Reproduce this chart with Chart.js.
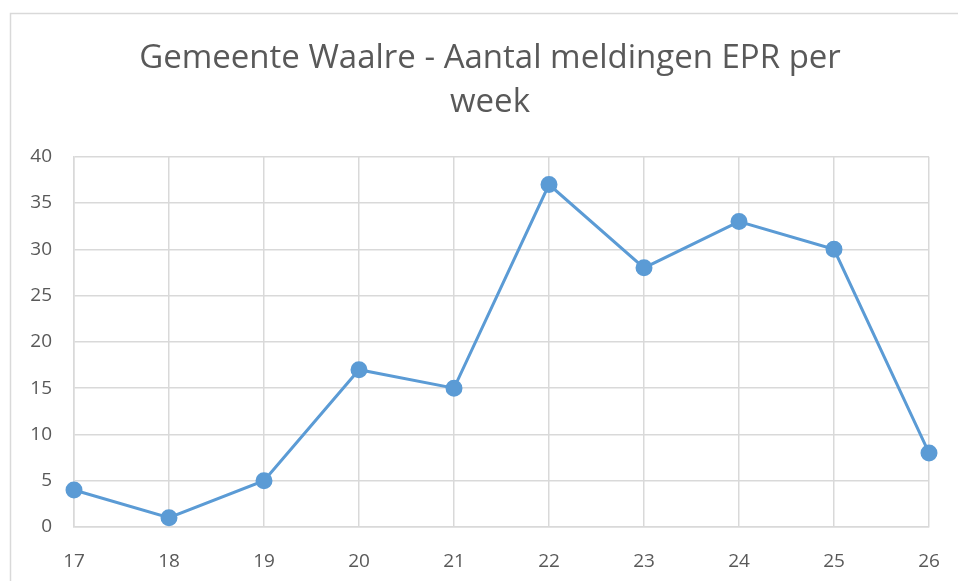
<!DOCTYPE html>
<html>
<head>
<meta charset="utf-8">
<script src="https://cdn.jsdelivr.net/npm/chart.js@4/dist/chart.umd.min.js"></script>
<style>
  html, body { margin: 0; padding: 0; background: #fff; overflow: hidden; }
  #wrap { width: 980px; height: 600px; }
</style>
</head>
<body>
<div id="wrap"><canvas id="chart" width="980" height="600"></canvas></div>
<script>
const weeks = ["17", "18", "19", "20", "21", "22", "23", "24", "25", "26"];
const meldingen = [4, 1, 5, 17, 15, 37, 28, 33, 30, 8];
const titleLines = ["Gemeente Waalre - Aantal meldingen EPR per", "week"];

const FONT = "'Open Sans', 'Liberation Sans', sans-serif";
const TEXT = "#595959";
const GRID = "#d9d9d9";

// light frame round the whole chart, like the office chart box
const chartFrame = {
  id: "chartFrame",
  beforeDraw(chart) {
    const ctx = chart.ctx;
    ctx.save();
    ctx.strokeStyle = GRID;
    ctx.lineWidth = 1.5;
    ctx.strokeRect(10.5, 13.5, 1200, 1200);
    ctx.restore();
  },
};

new Chart(document.getElementById("chart"), {
  type: "line",
  data: {
    labels: weeks,
    datasets: [
      {
        data: meldingen,
        borderColor: "#5b9bd5",
        backgroundColor: "#5b9bd5",
        borderWidth: 3,
        pointRadius: 7,
        pointHoverRadius: 7,
        tension: 0,
      },
    ],
  },
  options: {
    responsive: false,
    animation: false,
    layout: {
      padding: { left: 0, right: 0, top: 0, bottom: 23 },
    },
    scales: {
      x: {
        offset: false,
        grid: { color: GRID, lineWidth: 1.5, drawTicks: false },
        border: { color: GRID, width: 1.5 },
        ticks: {
          color: TEXT,
          padding: 23,
          maxRotation: 0,
          font: { size: 19, family: FONT },
        },
        afterFit(scale) {
          scale.height = 50;
        },
      },
      y: {
        min: 0,
        max: 40,
        grid: { color: GRID, lineWidth: 1.5, drawTicks: false },
        border: { color: GRID, width: 1.5 },
        ticks: {
          stepSize: 5,
          color: TEXT,
          padding: 22,
          font: { size: 19, family: FONT },
        },
        afterFit(scale) {
          scale.width = 74;
        },
      },
      // empty right-hand gutter so the title stays centred on the frame
      gutter: {
        position: "right",
        min: 0,
        max: 40,
        grid: { display: false },
        border: { display: false },
        ticks: { display: false },
        afterFit(scale) {
          scale.width = 51;
        },
      },
    },
    plugins: {
      legend: { display: false },
      tooltip: { enabled: false },
      title: {
        display: true,
        text: titleLines,
        color: TEXT,
        font: { size: 33, family: FONT, weight: "normal", lineHeight: 1.33 },
        padding: { top: 37, bottom: 32 },
      },
    },
  },
  plugins: [chartFrame],
});
</script>
</body>
</html>
